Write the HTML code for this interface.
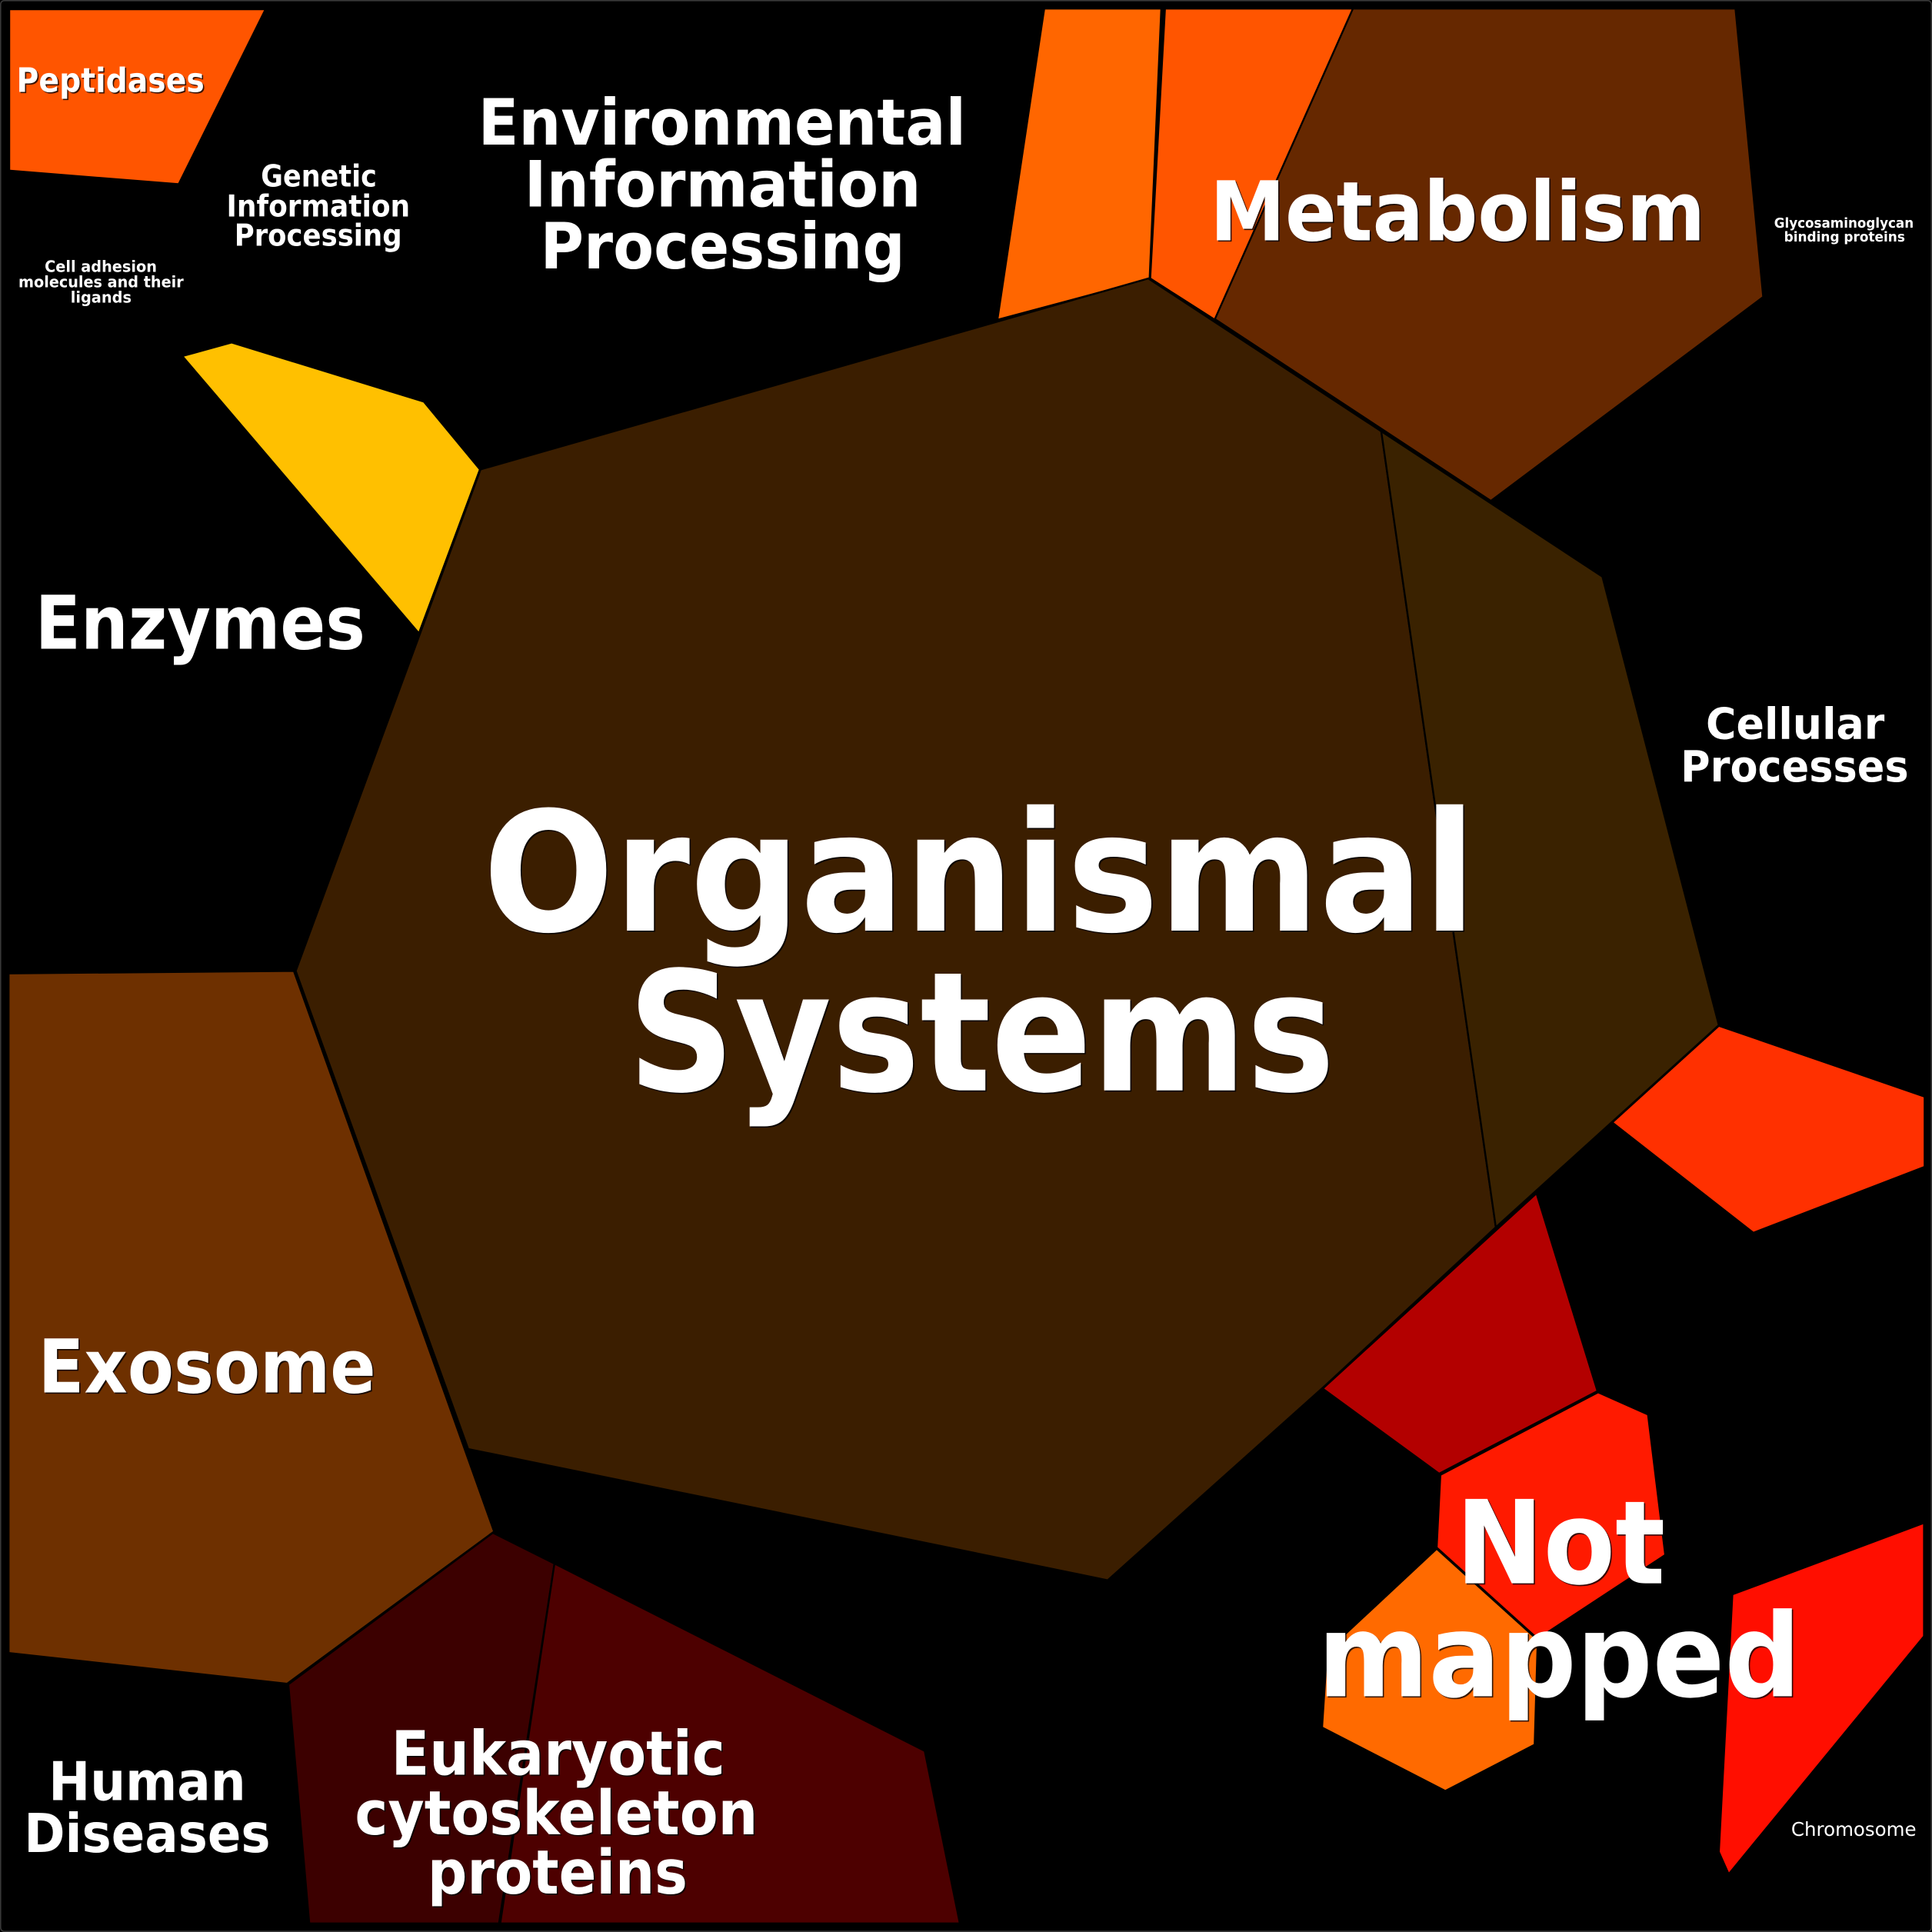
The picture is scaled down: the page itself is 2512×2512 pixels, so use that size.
<!DOCTYPE html>
<html><head><meta charset="utf-8"><style>
html,body{margin:0;padding:0;background:#000;width:2512px;height:2512px;overflow:hidden}
svg{display:block}
text{font-family:"DejaVu Sans","Liberation Sans",sans-serif;font-weight:bold;fill:#fff;text-anchor:middle}
polygon{stroke:#000;stroke-width:1.5;stroke-linejoin:miter}
</style></head><body>
<svg xmlns="http://www.w3.org/2000/svg" width="2512" height="2512" viewBox="0 0 1568 1568">
<rect width="1568" height="1568" fill="#000"/>
<rect x="0.5" y="0.5" width="1567" height="1567" rx="3" fill="none" stroke="#383838" stroke-width="1"/>
<polygon points="7.5,7.5 215.5,7.5 145,149.5 7.5,138.5" fill="#ff5500" stroke="none"/>
<polygon points="847.5,7 942.5,7 933,226.5 809.5,259.5" fill="#ff6600"/>
<polygon points="945.5,7 1098.5,7 986,259.5 933.5,226" fill="#ff5500"/>
<polygon points="1098,7 1408.5,7 1431,241 1210,406.5 986,259" fill="#662800"/>
<polygon points="148,289 188,278 344,326 389.5,381 340,514" fill="#ffc000" stroke="none"/>
<polygon points="390,381 932,226 1121,350 1214,996 1075,1125 899,1282.5 380,1176 240,788" fill="#3b1e00"/>
<polygon points="1121,350 1300.5,468 1395,832 1214,996" fill="#3a2200"/>
<polygon points="7,790 238.5,788 401,1243 233,1366.5 7,1341.5" fill="#6e3000"/>
<polygon points="400,1244 450,1269 405,1561 251,1561 234,1367" fill="#3c0000"/>
<polygon points="450,1269 750.5,1421 779,1561 406,1561" fill="#4d0000"/>
<polygon points="1395,832.5 1562,890 1562,947 1423,1000.5 1308.5,911" fill="#ff3000"/>
<polygon points="1247,968.5 1296.5,1129 1168,1196 1073.5,1127" fill="#b30000"/>
<polygon points="1297,1130 1337.5,1148 1351.5,1262 1248,1330 1166,1256 1169,1197" fill="#ff1a00"/>
<polygon points="1166,1257 1248,1331 1245.5,1416 1173,1453.5 1073,1402 1077,1340" fill="#ff6a00"/>
<polygon points="1406,1294 1561.5,1236 1561.5,1328 1403,1521 1395,1503" fill="#ff0e00" stroke="none"/>
<g style="filter:drop-shadow(1px 1px 0 rgba(0,0,0,.8))">
<text x="795" y="755.3" font-size="135" textLength="806" lengthAdjust="spacingAndGlyphs">Organismal</text>
<text x="796.5" y="885" font-size="135" textLength="574" lengthAdjust="spacingAndGlyphs">Systems</text>
<text x="1183" y="195" font-size="67" textLength="402" lengthAdjust="spacingAndGlyphs">Metabolism</text>
<text x="586" y="117.2" font-size="52" textLength="396" lengthAdjust="spacingAndGlyphs">Environmental</text>
<text x="586.5" y="167.5" font-size="52" textLength="322" lengthAdjust="spacingAndGlyphs">Information</text>
<text x="586.5" y="218" font-size="52" textLength="296" lengthAdjust="spacingAndGlyphs">Processing</text>
<text x="162.5" y="526.5" font-size="60" textLength="268" lengthAdjust="spacingAndGlyphs">Enzymes</text>
<text x="168" y="1130" font-size="60" textLength="274" lengthAdjust="spacingAndGlyphs">Exosome</text>
<text x="89.7" y="74.5" font-size="27" textLength="152.5" lengthAdjust="spacingAndGlyphs">Peptidases</text>
<text x="258.8" y="151.5" font-size="24.3" textLength="94" lengthAdjust="spacingAndGlyphs">Genetic</text>
<text x="258.3" y="175.8" font-size="24.3" textLength="149" lengthAdjust="spacingAndGlyphs">Information</text>
<text x="258.2" y="199.3" font-size="24.3" textLength="136" lengthAdjust="spacingAndGlyphs">Processing</text>
<text x="81.8" y="220.6" font-size="13" textLength="91" lengthAdjust="spacingAndGlyphs">Cell adhesion</text>
<text x="82" y="233" font-size="13" textLength="134" lengthAdjust="spacingAndGlyphs">molecules and their</text>
<text x="82" y="245.5" font-size="13" textLength="49.5" lengthAdjust="spacingAndGlyphs">ligands</text>
<text x="1496.5" y="184.8" font-size="11" textLength="113.2" lengthAdjust="spacingAndGlyphs">Glycosaminoglycan</text>
<text x="1497" y="196" font-size="11" textLength="98.2" lengthAdjust="spacingAndGlyphs">binding proteins</text>
<text x="1457" y="599.6" font-size="35" textLength="145" lengthAdjust="spacingAndGlyphs">Cellular</text>
<text x="1456.5" y="634.2" font-size="35" textLength="185" lengthAdjust="spacingAndGlyphs">Processes</text>
<text x="119.5" y="1461" font-size="43.3" textLength="160" lengthAdjust="spacingAndGlyphs">Human</text>
<text x="119.5" y="1503" font-size="43.3" textLength="200" lengthAdjust="spacingAndGlyphs">Diseases</text>
<text x="453" y="1440.5" font-size="49.4" textLength="271" lengthAdjust="spacingAndGlyphs">Eukaryotic</text>
<text x="451.5" y="1488.8" font-size="49.4" textLength="327" lengthAdjust="spacingAndGlyphs">cytoskeleton</text>
<text x="452.5" y="1536.7" font-size="49.4" textLength="211" lengthAdjust="spacingAndGlyphs">proteins</text>
<text x="1266.5" y="1285" font-size="94" textLength="170" lengthAdjust="spacingAndGlyphs">Not</text>
<text x="1265.5" y="1376.7" font-size="94" textLength="392" lengthAdjust="spacingAndGlyphs">mapped</text>
<text x="1504.5" y="1490" font-size="15.3" style="font-weight:normal">Chromosome</text>
</g>
</svg>
</body></html>
